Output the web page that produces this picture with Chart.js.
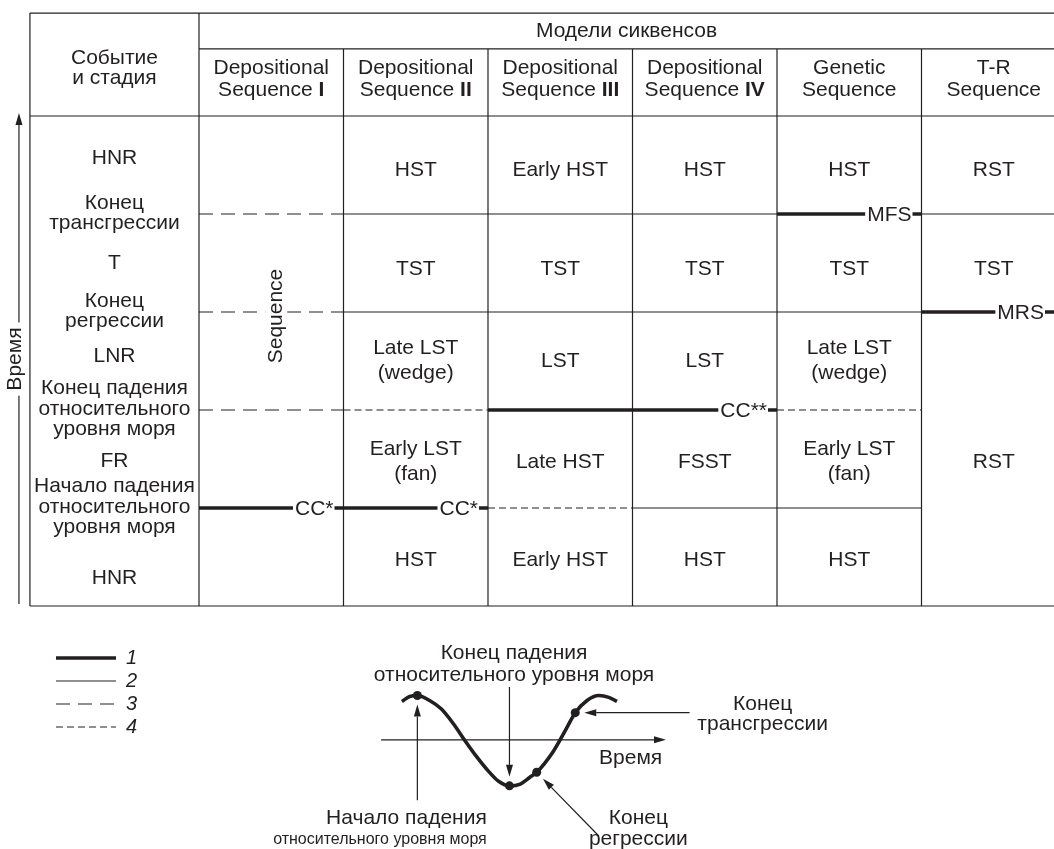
<!DOCTYPE html>
<html lang="ru">
<head>
<meta charset="utf-8">
<title>Модели сиквенсов</title>
<script src="https://cdn.jsdelivr.net/npm/chart.js@4.4.1/dist/chart.umd.min.js"></script>
<style>
  html, body { margin: 0; padding: 0; background: #fff; }
  #page { position: relative; width: 1054px; height: 849px; overflow: hidden; }
  #page canvas { position: absolute; }
  #tableChart { left: 0; top: 0; }
  #curveChart { left: 200px; top: 620px; }
  #legendChart { left: 53px; top: 645px; }
</style>
</head>
<body>
<div id="page">
  <canvas id="tableChart" width="1054" height="620"></canvas>
  <canvas id="curveChart" width="660" height="229"></canvas>
  <canvas id="legendChart" width="240" height="110"></canvas>
</div>
<script>
"use strict";

// ---------- data: table ----------
const modelsCaption = "Модели сиквенсов";
const firstColCaption = ["Событие", "и стадия"];
const modelTitles = ["Depositional", "Depositional", "Depositional", "Depositional", "Genetic", "T-R"];
const modelSubtitles = ["Sequence", "Sequence", "Sequence", "Sequence", "Sequence", "Sequence"];
const modelNumerals = ["I", "II", "III", "IV", "", ""];

// stages, from the oldest (bottom) to the youngest (top)
const stageNames = ["HNR", "FR", "LNR", "T", "HNR"];
// events = boundaries between the stages (1..4)
const eventNames = [
  ["Начало падения", "относительного", "уровня моря"],
  ["Конец падения", "относительного", "уровня моря"],
  ["Конец", "регрессии"],
  ["Конец", "трансгрессии"]
];

// cells of every model: [from boundary, to boundary, text]
const cellsSeq1 = [[1, 5, "Sequence"]];
const cellsSeq2 = [[0, 1, "HST"], [1, 2, "Early LST|(fan)"], [2, 3, "Late LST|(wedge)"], [3, 4, "TST"], [4, 5, "HST"]];
const cellsSeq3 = [[0, 1, "Early HST"], [1, 2, "Late HST"], [2, 3, "LST"], [3, 4, "TST"], [4, 5, "Early HST"]];
const cellsSeq4 = [[0, 1, "HST"], [1, 2, "FSST"], [2, 3, "LST"], [3, 4, "TST"], [4, 5, "HST"]];
const cellsGenetic = [[0, 1, "HST"], [1, 2, "Early LST|(fan)"], [2, 3, "Late LST|(wedge)"], [3, 4, "TST"], [4, 5, "HST"]];
const cellsTR = [[0, 3, "RST"], [3, 4, "TST"], [4, 5, "RST"]];

// line type on each event boundary: 1 thick, 2 thin, 3 dashed, 4 fine dashed, 0 none
const linesSeq1 = [1, 3, 3, 3];
const linesSeq2 = [1, 4, 2, 2];
const linesSeq3 = [4, 1, 2, 2];
const linesSeq4 = [2, 1, 2, 2];
const linesGenetic = [2, 4, 2, 1];
const linesTR = [0, 0, 1, 2];

// surface names written on the thick lines
const surfacesSeq1 = ["CC*", "", "", ""];
const surfacesSeq2 = ["CC*", "", "", ""];
const surfacesSeq3 = ["", "", "", ""];
const surfacesSeq4 = ["", "CC**", "", ""];
const surfacesGenetic = ["", "", "", "MFS"];
const surfacesTR = ["", "", "MRS", ""];

const legendKeys = [1, 2, 3, 4];

// ---------- data: sea level curve ----------
const seaTime = [0.46, 0.63, 0.80, 1.07, 1.33, 1.59, 1.85, 2.11, 2.37, 2.59, 2.83, 3.07, 3.28, 3.43, 3.78, 4.09, 4.28, 4.54, 4.80, 5.02, 5.20];
const seaLevel = [0.85, 0.96, 0.98, 0.87, 0.68, 0.36, -0.02, -0.38, -0.70, -0.92, -1.02, -0.98, -0.83, -0.72, -0.28, 0.26, 0.60, 0.87, 0.98, 0.94, 0.85];
const eventTime = [0.80, 2.83, 3.43, 4.28];
const eventLevel = [0.98, -1.02, -0.72, 0.60];
const curveLabels = [
  ["Начало падения", "относительного уровня моря"],
  ["Конец падения", "относительного уровня моря"],
  ["Конец", "регрессии"],
  ["Конец", "трансгрессии"]
];
const timeLabel = "Время";

// ---------- styles / layout ----------
const INK = "#231f20";
const FONT = "'Liberation Sans', Arial, Helvetica, sans-serif";
const lineStyles = {
  1: { width: 3.6, dash: [] },
  2: { width: 1.2, dash: [] },
  3: { width: 1.2, dash: [14, 8] },
  4: { width: 1.2, dash: [7, 4] }
};

const modelCells = [cellsSeq1, cellsSeq2, cellsSeq3, cellsSeq4, cellsGenetic, cellsTR];
const modelLines = [linesSeq1, linesSeq2, linesSeq3, linesSeq4, linesGenetic, linesTR];
const modelSurfaces = [surfacesSeq1, surfacesSeq2, surfacesSeq3, surfacesSeq4, surfacesGenetic, surfacesTR];

// table scale: one unit = one model column / one stage
const colPx = 144.5, rowPx = 98, originX = 199, originY = 606;
const tableW = 1054, tableH = 620;
const leftEdge = -1.17, headerTop = 6.05, headerMid = 5.684, bodyTop = 5, rightEdge = 7;
const timeArrowX = -1.246;
const stageShiftPx = [21, 2, -5, 0, -7];
const cellShiftPx = [3, 3, 0, 6, 5];

function seg(x0, y0, x1, y1, type) {
  const st = lineStyles[type];
  return {
    data: [{ x: x0, y: y0 }, { x: x1, y: y1 }],
    showLine: true,
    borderColor: INK,
    borderWidth: st.width,
    borderDash: st.dash,
    borderCapStyle: "butt",
    pointRadius: 0
  };
}

function textBlock(ctx, lines, cx, cy, lh) {
  const n = lines.length;
  lines.forEach((s, i) => ctx.fillText(s, cx, cy + (i - (n - 1) / 2) * lh));
}

function arrow(ctx, x0, y0, x1, y1, shorten) {
  const dx = x1 - x0, dy = y1 - y0;
  const len = Math.hypot(dx, dy);
  const ux = dx / len, uy = dy / len;
  const tx = x1 - ux * shorten, ty = y1 - uy * shorten;
  const head = 12, half = 3.5;
  ctx.beginPath();
  ctx.moveTo(x0, y0);
  ctx.lineTo(tx - ux * head, ty - uy * head);
  ctx.stroke();
  ctx.beginPath();
  ctx.moveTo(tx, ty);
  ctx.lineTo(tx - ux * head - uy * half, ty - uy * head + ux * half);
  ctx.lineTo(tx - ux * head + uy * half, ty - uy * head - ux * half);
  ctx.closePath();
  ctx.fill();
}

// ---------- table chart ----------
const tableSets = [];
tableSets.push(seg(leftEdge, headerTop, rightEdge, headerTop, 2));
tableSets.push(seg(0, headerMid, rightEdge, headerMid, 2));
tableSets.push(seg(leftEdge, bodyTop, rightEdge, bodyTop, 2));
tableSets.push(seg(leftEdge, 0, rightEdge, 0, 2));
tableSets.push(seg(leftEdge, 0, leftEdge, headerTop, 2));
tableSets.push(seg(0, 0, 0, headerTop, 2));
for (let c = 1; c <= modelTitles.length; c++) {
  tableSets.push(seg(c, 0, c, headerMid, 2));
}
modelLines.forEach((types, c) => {
  types.forEach((t, i) => {
    if (t) tableSets.push(seg(c, i + 1, c + 1, i + 1, t));
  });
});

const tableTextPlugin = {
  id: "tableText",
  afterDatasetsDraw(chart) {
    const ctx = chart.ctx;
    const px = v => chart.scales.x.getPixelForValue(v);
    const py = v => chart.scales.y.getPixelForValue(v);
    const area = chart.chartArea;
    ctx.save();
    ctx.fillStyle = INK;
    ctx.strokeStyle = INK;
    ctx.textAlign = "center";
    ctx.textBaseline = "middle";
    ctx.font = "21px " + FONT;

    // header
    ctx.fillText(modelsCaption, (px(0) + area.right) / 2, (py(headerTop) + py(headerMid)) / 2);
    const col0 = (px(leftEdge) + px(0)) / 2;
    textBlock(ctx, firstColCaption, col0, (py(headerTop) + py(bodyTop)) / 2 + 4, 20);
    modelTitles.forEach((title, c) => {
      const cx = px(c + 0.5);
      const cy = (py(headerMid) + py(bodyTop)) / 2 - 3;
      ctx.font = "21px " + FONT;
      ctx.textAlign = "center";
      ctx.fillText(title, cx, cy - 11);
      const sub = modelSubtitles[c];
      const num = modelNumerals[c];
      if (!num) {
        ctx.fillText(sub, cx, cy + 11);
      } else {
        const w1 = ctx.measureText(sub + " ").width;
        ctx.font = "bold 21px " + FONT;
        const w2 = ctx.measureText(num).width;
        const start = cx - (w1 + w2) / 2;
        ctx.textAlign = "left";
        ctx.font = "21px " + FONT;
        ctx.fillText(sub + " ", start, cy + 11);
        ctx.font = "bold 21px " + FONT;
        ctx.fillText(num, start + w1, cy + 11);
      }
    });
    ctx.font = "21px " + FONT;
    ctx.textAlign = "center";

    // first column: stages and events
    stageNames.forEach((s, i) => ctx.fillText(s, col0, py(i + 0.5) + stageShiftPx[i]));
    eventNames.forEach((lines, i) => textBlock(ctx, lines, col0, py(i + 1) - 1, 20.5));

    // model cells
    modelCells.forEach((cells, c) => {
      cells.forEach(([from, to, text]) => {
        const cx = px(c + 0.5), cy = (py(from) + py(to)) / 2;
        if (c === 0) {
          const w = ctx.measureText(text).width;
          ctx.save();
          ctx.translate(cx + 5, cy + 4);
          ctx.rotate(-Math.PI / 2);
          ctx.fillStyle = "#fff";
          ctx.fillRect(-w / 2 - 3, -11, w + 6, 22);
          ctx.fillStyle = INK;
          ctx.fillText(text, 0, 0);
          ctx.restore();
        } else {
          textBlock(ctx, text.split("|"), cx, cy + cellShiftPx[from], 25);
        }
      });
    });

    // surface names on thick lines
    ctx.textAlign = "right";
    modelSurfaces.forEach((names, c) => {
      names.forEach((name, i) => {
        if (!name) return;
        const xr = Math.min(px(c + 1), area.right) - 10;
        const y = py(i + 1);
        const w = ctx.measureText(name).width;
        ctx.fillStyle = "#fff";
        ctx.fillRect(xr - w - 2, y - 8, w + 3, 16);
        ctx.fillStyle = INK;
        ctx.fillText(name, xr, y + 1);
      });
    });

    // time arrow along the stages
    ctx.lineWidth = 1.2;
    const ax = px(timeArrowX);
    arrow(ctx, ax, py(0.02), ax, py(bodyTop) - 3, 0);
    const ty = py(2.52);
    const tw = ctx.measureText(timeLabel).width;
    ctx.fillStyle = "#fff";
    ctx.fillRect(ax - 8, ty - tw / 2 - 5, 16, tw + 10);
    ctx.fillStyle = INK;
    ctx.save();
    ctx.translate(ax - 4, ty);
    ctx.rotate(-Math.PI / 2);
    ctx.textAlign = "center";
    ctx.fillText(timeLabel, 0, 0);
    ctx.restore();
    ctx.restore();
  }
};

new Chart(document.getElementById("tableChart"), {
  type: "scatter",
  data: { datasets: tableSets },
  options: {
    responsive: false,
    animation: false,
    events: [],
    layout: { padding: 0 },
    plugins: { legend: { display: false }, tooltip: { enabled: false } },
    scales: {
      x: { type: "linear", display: false, min: -originX / colPx, max: (tableW - originX) / colPx },
      y: { type: "linear", display: false, min: (originY - tableH) / rowPx, max: originY / rowPx }
    }
  },
  plugins: [tableTextPlugin]
});

// ---------- sea level curve chart ----------
const curveLeft = 200, curveTop = 620, curveW = 660, curveH = 229;
const axisX0 = 379, axisY0 = 740, timePx = 46, levelPx = 47;
const timeAxisStart = 0, timeAxisEnd = 6.28;
const arrowTails = [[0.80, -1.34], [2.83, 1.17], [4.80, -2.13], [6.80, 0.60]];
// label anchor [time, level, line height, align, font size of the 2nd line]
const labelPos = [
  [2.33, -1.97, 21, "right", 16],
  [2.93, 1.68, 22, "center", 21],
  [5.67, -1.97, 21, "center", 21],
  [8.41, 0.57, 20, "center", 21]
];

const curvePlugin = {
  id: "curveNotes",
  beforeDatasetsDraw(chart) {
    const ctx = chart.ctx;
    const px = v => chart.scales.x.getPixelForValue(v);
    const py = v => chart.scales.y.getPixelForValue(v);
    ctx.save();
    ctx.strokeStyle = INK;
    ctx.fillStyle = INK;
    ctx.lineWidth = 1.2;
    arrow(ctx, px(timeAxisStart), py(0), px(timeAxisEnd), py(0), 0);
    ctx.restore();
  },
  afterDatasetsDraw(chart) {
    const ctx = chart.ctx;
    const px = v => chart.scales.x.getPixelForValue(v);
    const py = v => chart.scales.y.getPixelForValue(v);
    ctx.save();
    ctx.strokeStyle = INK;
    ctx.fillStyle = INK;
    ctx.lineWidth = 1.2;
    arrowTails.forEach(([t, l], i) => {
      arrow(ctx, px(t), py(l), px(eventTime[i]), py(eventLevel[i]), 9);
    });
    ctx.textBaseline = "middle";
    curveLabels.forEach((lines, i) => {
      const [t, l, lh, align, size2] = labelPos[i];
      ctx.textAlign = align;
      ctx.font = "21px " + FONT;
      ctx.fillText(lines[0], px(t), py(l) - lh / 2);
      ctx.font = size2 + "px " + FONT;
      ctx.fillText(lines[1], px(t), py(l) + lh / 2);
    });
    ctx.font = "21px " + FONT;
    ctx.textAlign = "center";
    ctx.fillText(timeLabel, px(5.5), py(-0.40));
    ctx.restore();
  }
};

new Chart(document.getElementById("curveChart"), {
  type: "scatter",
  data: {
    datasets: [
      {
        data: eventTime.map((t, i) => ({ x: t, y: eventLevel[i] })),
        showLine: false,
        pointRadius: 4.5,
        pointBackgroundColor: INK,
        pointBorderColor: INK,
        pointBorderWidth: 0
      },
      {
        data: seaTime.map((t, i) => ({ x: t, y: seaLevel[i] })),
        showLine: true,
        borderColor: INK,
        borderWidth: 3.6,
        borderJoinStyle: "round",
        cubicInterpolationMode: "monotone",
        pointRadius: 0
      }
    ]
  },
  options: {
    responsive: false,
    animation: false,
    events: [],
    layout: { padding: 0 },
    plugins: { legend: { display: false }, tooltip: { enabled: false } },
    scales: {
      x: { type: "linear", display: false, min: (curveLeft - axisX0) / timePx, max: (curveLeft + curveW - axisX0) / timePx },
      y: { type: "linear", display: false, min: (axisY0 - curveTop - curveH) / levelPx, max: (axisY0 - curveTop) / levelPx }
    }
  },
  plugins: [curvePlugin]
});

// ---------- legend of line types ----------
new Chart(document.getElementById("legendChart"), {
  type: "scatter",
  data: { datasets: [] },
  options: {
    responsive: false,
    animation: false,
    events: [],
    layout: { padding: 0 },
    scales: { x: { display: false }, y: { display: false } },
    plugins: {
      tooltip: { enabled: false },
      legend: {
        position: "left",
        align: "start",
        labels: {
          usePointStyle: true,
          pointStyleWidth: 60,
          boxHeight: 20,
          padding: 3,
          color: INK,
          font: { family: FONT, size: 20, style: "italic" },
          generateLabels: () => legendKeys.map(k => ({
            text: String(k),
            pointStyle: "line",
            lineWidth: lineStyles[k].width,
            lineDash: lineStyles[k].dash,
            strokeStyle: INK,
            fillStyle: INK,
            fontColor: INK,
            hidden: false
          }))
        }
      }
    }
  }
});
</script>
</body>
</html>
